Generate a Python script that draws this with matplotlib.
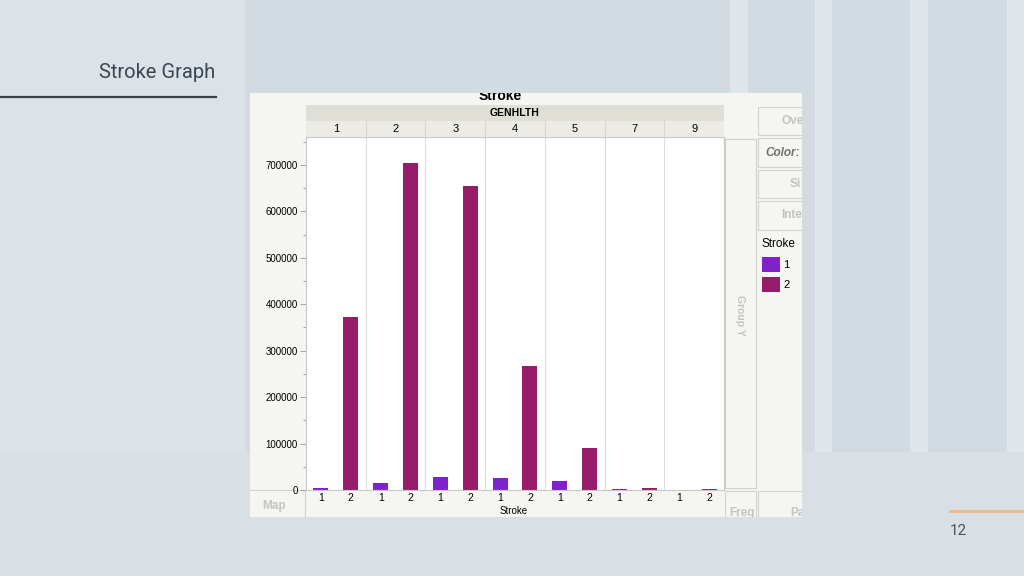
import matplotlib.pyplot as plt
from matplotlib.patches import Rectangle
from matplotlib.ticker import MultipleLocator
from matplotlib import font_manager

genhlth = ['1', '2', '3', '4', '5', '7', '9']
stroke_levels = ['1', '2']
stroke1 = [3700, 14400, 28000, 26500, 18700, 1200, 300]
stroke2 = [372600, 704300, 654800, 267000, 91100, 3700, 2000]

c1 = '#8022cc'
c2 = '#961c6a'

names = set(f.name for f in font_manager.fontManager.ttflist)
if 'Liberation Sans Narrow' in names:
    slide_font, title_size = 'Liberation Sans Narrow', 18
else:
    slide_font, title_size = 'Roboto', 14.5
ui_font = 'Liberation Sans'

W, H = 1024, 576
fig = plt.figure(figsize=(10.24, 5.76), dpi=100)
bg = fig.add_axes([0, 0, 1, 1])
bg.set_xlim(0, W)
bg.set_ylim(H, 0)
bg.axis('off')


def box(x0, y0, x1, y1, fc, ec='none', lw=0, z=1):
    r = Rectangle((x0, y0), x1 - x0, y1 - y0, fc=fc, ec=ec, lw=lw, zorder=z)
    bg.add_patch(r)
    return r


def clipped(artist, patch):
    artist.set_clip_path(patch)
    artist.set_clip_on(True)
    return artist


# slide background
box(0, 0, W, H, '#d2dbe1')
box(0, 0, 245, 452, '#dce3e8')
for x0, x1 in [(730, 748), (815, 832), (910, 928), (1007, 1024)]:
    box(x0, 0, x1, 452, '#dfe6ea')
box(0, 452, W, H, '#d8e0e5')

bg.text(215, 73, 'Stroke Graph', ha='right', va='center', fontsize=title_size,
        color='#3b4650', family=slide_font)
bg.plot([0, 216], [97, 97], color='#3a4049', lw=1.6, zorder=2)
bg.plot([950, 1024], [511, 511], color='#f0b888', lw=2, zorder=2)
bg.text(958, 531, '12', ha='center', va='center', fontsize=11,
        color='#4a5562', family=slide_font)

# screenshot panel
shot = box(250, 93, 802, 517, '#f5f5f2', z=2)

clipped(bg.text(500, 96, 'Stroke', ha='center', va='center', fontsize=10,
                fontweight='bold', family=ui_font, zorder=3), shot)

# header strips
box(306, 105, 724, 121, '#e0dfd5', z=3)
box(306, 121, 724, 137, '#ecebe6', z=3)
bg.text(515, 113, 'GENHLTH', ha='center', va='center', fontsize=7.5,
        fontweight='bold', family=ui_font, zorder=4)
pw = (724 - 306) / len(genhlth)
for i, g in enumerate(genhlth):
    bg.text(306 + (i + 0.5) * pw, 129, g, ha='center', va='center',
            fontsize=8, family=ui_font, zorder=4)
    if i > 0:
        bg.plot([306 + i * pw] * 2, [121, 137], color='#d6d5ce', lw=0.8, zorder=4)

# right-hand controls
buttons = [(107, 135, 'Ove', 782, '#c2c2c2', 'normal'),
           (138, 167, 'Color:', 765, '#707070', 'italic'),
           (170, 198, 'Si', 790, '#c2c2c2', 'normal'),
           (201, 230, 'Inte', 781, '#c2c2c2', 'normal')]
for y0, y1, lab, tx, col, sty in buttons:
    clipped(box(758, y0, 815, y1, '#f5f5f2', ec='#d2d2ce', lw=0.8, z=3), shot)
    clipped(bg.text(tx, (y0 + y1) / 2, lab, ha='left', va='center', fontsize=8.5,
                    color=col, fontweight='bold', fontstyle=sty, family=ui_font,
                    zorder=4), shot)

box(725, 139, 756, 488, '#f5f5f2', ec='#cfcfcb', lw=0.8, z=3)
bg.text(740, 315, 'Group Y', rotation=-90, ha='center', va='center', fontsize=7.5,
        color='#c4c4c4', fontweight='bold', family=ui_font, zorder=4)

bg.text(762, 244, 'Stroke', ha='left', va='center', fontsize=8.5,
        family=ui_font, zorder=4)
for k, (lev, col) in enumerate(zip(stroke_levels, [c1, c2])):
    box(762, 257 + 20 * k, 780, 272 + 20 * k, col, z=4)
    bg.text(783, 265 + 20 * k, lev, ha='left', va='center', fontsize=8,
            family=ui_font, zorder=4)

# bottom boxes
bg.plot([250, 306], [490, 490], color='#d2d2ce', lw=0.8, zorder=3)
bg.plot([305, 305], [490, 517], color='#d2d2ce', lw=0.8, zorder=3)
bg.text(262, 506, 'Map', ha='left', va='center', fontsize=8.5, color='#c4c4c4',
        fontweight='bold', family=ui_font, zorder=4)
clipped(box(725, 491, 756, 530, '#f5f5f2', ec='#d2d2ce', lw=0.8, z=3), shot)
clipped(bg.text(729, 513, 'Freq', ha='left', va='center', fontsize=8.5,
                color='#c4c4c4', fontweight='bold', family=ui_font, zorder=4), shot)
clipped(box(758, 491, 815, 530, '#f5f5f2', ec='#d2d2ce', lw=0.8, z=3), shot)
clipped(bg.text(790, 513, 'Pa', ha='left', va='center', fontsize=8.5,
                color='#c4c4c4', fontweight='bold', family=ui_font, zorder=4), shot)
bg.text(514, 511, 'Stroke', ha='center', va='center', fontsize=7,
        family=ui_font, zorder=4)

# chart
ax = fig.add_axes([306 / W, 1 - 490 / H, (724 - 306) / W, (490 - 137) / H])
ax.set_zorder(3)
ax.set_facecolor('white')
n = len(genhlth)
x1 = [i + 0.25 for i in range(n)]
x2 = [i + 0.75 for i in range(n)]
ax.bar(x1, stroke1, width=0.25, color=c1, zorder=2)
ax.bar(x2, stroke2, width=0.25, color=c2, zorder=2)
for i in range(1, n):
    ax.axvline(i, color='#dcdcdc', lw=0.8, zorder=1)
ax.set_xlim(0, n)
ax.set_ylim(0, 760000)
ax.set_xticks(x1 + x2)
ax.set_xticklabels([stroke_levels[0]] * n + [stroke_levels[1]] * n)
ax.tick_params(axis='x', length=0, pad=2.5, labelsize=7.5)
ax.yaxis.set_major_locator(MultipleLocator(100000))
ax.yaxis.set_minor_locator(MultipleLocator(50000))
ax.ticklabel_format(axis='y', style='plain')
ax.tick_params(axis='y', which='major', length=4.5, width=0.6, color='#999999',
               labelsize=7, pad=1.5)
ax.tick_params(axis='y', which='minor', length=2.2, width=0.6, color='#999999')
for lab in ax.get_xticklabels() + ax.get_yticklabels():
    lab.set_family(ui_font)
for s in ax.spines.values():
    s.set_color('#c8c8c8')
    s.set_linewidth(0.8)

fig.savefig('out.png', dpi=100)
